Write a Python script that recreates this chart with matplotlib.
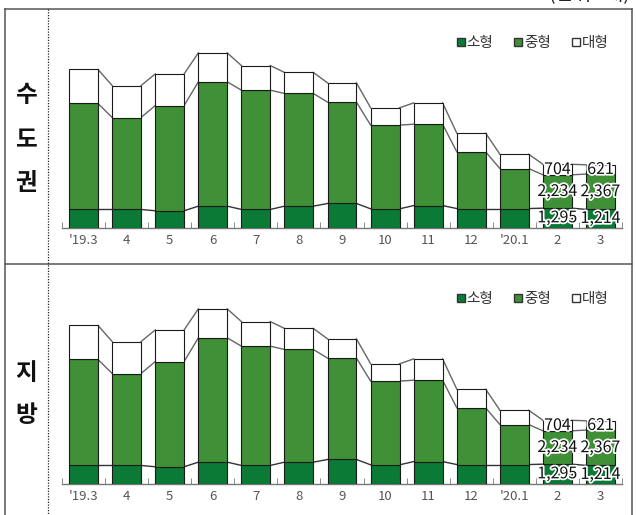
import numpy as np
import matplotlib
matplotlib.use('Agg')
import matplotlib.pyplot as plt
import matplotlib.patheffects as pe
from matplotlib.lines import Line2D

plt.rcParams['font.family'] = ['Noto Sans CJK KR', 'DejaVu Sans']

months = ["'19.3", '4', '5', '6', '7', '8', '9', '10', '11', '12', "'20.1", '2', '3']
small = [1210, 1210, 1120, 1430, 1210, 1430, 1610, 1250, 1470, 1270, 1270, 1295, 1214]
medium = [7100, 6160, 7050, 8330, 7990, 7550, 6790, 5610, 5450, 3800, 2680, 2234, 2367]
large = [2280, 2140, 2120, 1940, 1650, 1410, 1290, 1160, 1430, 1250, 960, 704, 621]
regions = ['수\n도\n권', '지\n방']
series_names = ['소형', '중형', '대형']

C_SMALL = '#0b7a37'
C_MED = '#3f9036'
C_LARGE = 'white'

W, H = 636, 515
fig = plt.figure(figsize=(W / 100, H / 100), dpi=100)

# pixel-space overlay for the frame and side labels
bg = fig.add_axes([0, 0, 1, 1], zorder=0)
bg.set_xlim(0, W)
bg.set_ylim(H, 0)
bg.axis('off')

frame_kw = dict(color='#555555', lw=1.1)
bg.plot([5, 632], [9, 9], **frame_kw)
bg.plot([5, 5], [9, H], **frame_kw)
bg.plot([632, 632], [9, H], **frame_kw)
bg.plot([5, 632], [264, 264], **frame_kw)
bg.plot([48, 48], [9, H], color='#222222', lw=0.9, linestyle=(0, (1, 1.2)))

bg.text(630, 5, '(단위 : 대)', ha='right', va='bottom', fontsize=14, color='#222222')


def px_to_fig(x0, y_top, x1, y_bot):
    return [x0 / W, 1 - y_bot / H, (x1 - x0) / W, (y_bot - y_top) / H]


def draw_panel(base_y, label, label_ys):
    ymax = 12000
    height_px = ymax / 67.0
    ax = fig.add_axes(px_to_fig(62, base_y - height_px, 622, base_y), zorder=2)
    ax.patch.set_visible(False)

    x = np.arange(len(months))
    w = 0.67
    s = np.array(small)
    m = np.array(medium)
    l = np.array(large)

    ax.bar(x, s, w, color=C_SMALL, edgecolor='#1a1a1a', lw=0.8, zorder=3)
    ax.bar(x, m, w, bottom=s, color=C_MED, edgecolor='#1a1a1a', lw=0.8, zorder=3)
    ax.bar(x, l, w, bottom=s + m, color=C_LARGE, edgecolor='#1a1a1a', lw=0.8, zorder=3)

    # series lines between neighbouring bars
    for cum, col in [(s, '#333333'), (s + m, '#666666'), (s + m + l, '#666666')]:
        for i in range(len(x) - 1):
            ax.plot([x[i] + w / 2, x[i + 1] - w / 2], [cum[i], cum[i + 1]],
                    color=col, lw=1.0, zorder=2)

    # value labels on the last two months
    stroke = [pe.withStroke(linewidth=2.5, foreground='white')]
    for i in [len(x) - 2, len(x) - 1]:
        for val, bot in [(s[i], 0), (m[i], s[i]), (l[i], s[i] + m[i])]:
            ax.text(x[i], bot + val / 2, f'{val:,}', ha='center', va='center',
                    fontsize=11.5, fontweight='medium', color='#111111',
                    path_effects=stroke, zorder=5)

    ax.set_xlim(-0.5, len(x) - 0.5)
    ax.set_ylim(0, ymax)
    for sp in ['top', 'right', 'left']:
        ax.spines[sp].set_visible(False)
    ax.spines['bottom'].set_color('#777777')
    ax.spines['bottom'].set_linewidth(1.0)
    ax.set_yticks([])
    ax.set_xticks(x)
    ax.set_xticklabels(months, fontsize=9.5, color='#555555')
    ax.tick_params(axis='x', which='major', length=0, pad=5)
    ax.set_xticks(np.arange(-0.5, len(x) - 0.4, 1.0), minor=True)
    ax.tick_params(axis='x', which='minor', direction='in', length=4, color='#777777')

    handles = [
        Line2D([], [], marker='s', ls='', markersize=6, markerfacecolor=C_SMALL, markeredgecolor='#333333'),
        Line2D([], [], marker='s', ls='', markersize=6, markerfacecolor=C_MED, markeredgecolor='#333333'),
        Line2D([], [], marker='s', ls='', markersize=6, markerfacecolor='white', markeredgecolor='#333333'),
    ]
    leg_y = 1 - (base_y - 184) / H
    fig.legend(handles, series_names, loc='center right', bbox_to_anchor=(614 / W, leg_y),
               ncol=3, frameon=False, fontsize=10.5, handlelength=0.6, handletextpad=0.1,
               columnspacing=1.4, labelcolor='#333333', borderaxespad=0)

    for ch, yy in zip(label.split('\n'), label_ys):
        bg.text(26, yy, ch, ha='center', va='center', fontsize=17, fontweight='bold', color='#111111')


draw_panel(227.5, regions[0], [95, 140, 183])
draw_panel(483.5, regions[1], [373, 415])

fig.savefig('out.png', dpi=100)
